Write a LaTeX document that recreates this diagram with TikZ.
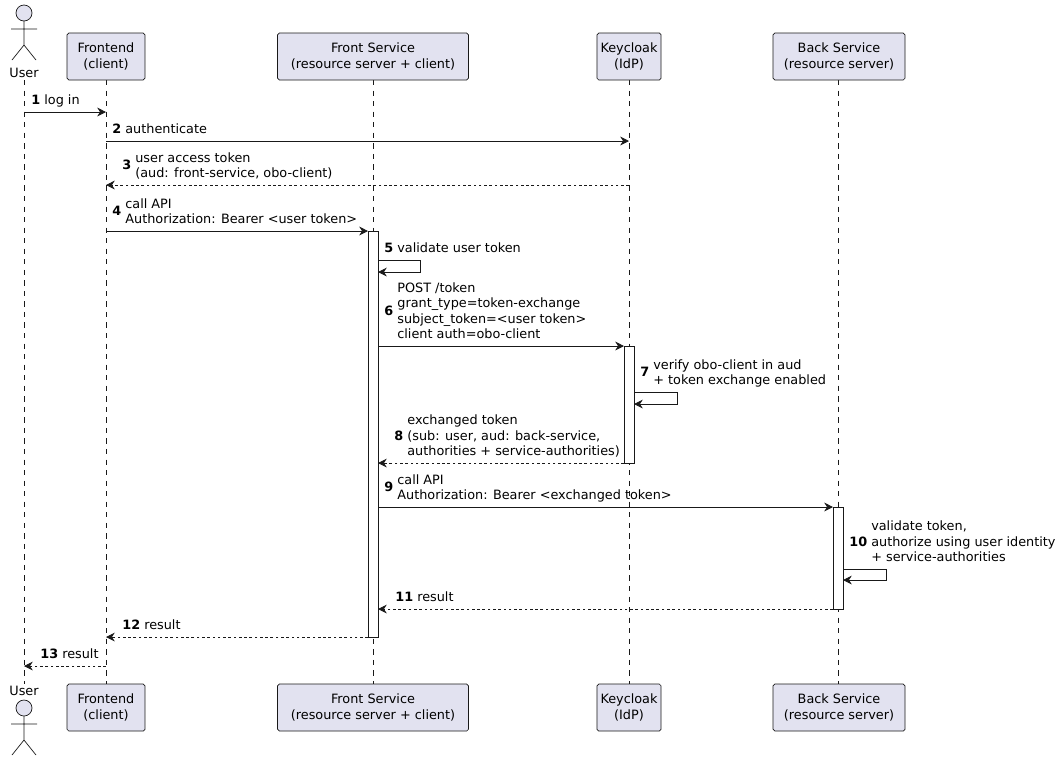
\documentclass[tikz,border=0pt]{standalone}
\usepackage{fontspec}
\setmainfont{DejaVu Sans}
\usetikzlibrary{arrows.meta}

\tikzset{
  part/.style={draw=black!90, fill=partfill, rounded corners=1pt, minimum height=0.94cm, align=center, inner sep=2pt},
  life/.style={draw=black!90, dashed, dash pattern=on 3pt off 3pt, line width=0.3pt},
  actv/.style={draw=black!90, fill=white, line width=0.4pt},
  call/.style={draw=black!90, line width=0.4pt, -{Stealth[length=5pt,width=5pt]}},
  back/.style={call, dash pattern=on 1.5pt off 1.5pt},
  lbl/.style={anchor=south west, inner sep=0pt, align=left},
}
\definecolor{partfill}{HTML}{E2E2F0}
\newcommand{\numtxt}[2]{\textbf{#1}~\begin{tabular}{@{}l@{}}#2\end{tabular}}

\begin{document}
\begin{tikzpicture}[x=0.02cm, y=-0.02cm, font=\fontsize{7.3}{8.6}\selectfont]
\useasboundingbox (0,0) rectangle (1060,765);
% lifelines
\draw[life] (24,80) -- (24,684);
\draw[life] (106,80) -- (106,684);
\draw[life] (373,80) -- (373,684);
\draw[life] (629,80) -- (629,684);
\draw[life] (838,80) -- (838,684);
% participants
\foreach \y/\s in {56.5/t,707.5/b}{
  \node[part, minimum width=1.56cm] (front\s) at (106,\y) {Frontend\\(client)};
  \node[part, minimum width=3.82cm] (fsvc\s) at (373,\y) {Front Service\\(resource server + client)};
  \node[part, minimum width=1.28cm] (kc\s) at (629,\y) {Keycloak\\(IdP)};
  \node[part, minimum width=2.64cm] (bsvc\s) at (839,\y) {Back Service\\(resource server)};
}
% actors
\foreach \h/\t in {13/73,708/691}{
  \draw[black!90, fill=partfill] (24,\h) circle (8);
  \draw[black!90] (24,\h+8) -- (24,\h+32) (11,\h+16) -- (37,\h+16)
    (12,\h+47) -- (24,\h+32) -- (36,\h+47);
  \node at (24,\t) {User};
}
% activations
\draw[actv] (368,231) rectangle (378,637);
\draw[actv] (624,346) rectangle (634,463);
\draw[actv] (833,507) rectangle (843,609);
% messages
\draw[call] (24,112) -- (106,112);
\node[lbl] (m1) at (31,109) {\numtxt{1}{log in}};
\draw[call] (106,141) -- (629,141);
\node[lbl] (m2) at (112,138) {\numtxt{2}{authenticate}};
\draw[back] (629,185) -- (106,185);
\node[lbl] (m3) at (122,182) {\numtxt{3}{user access token\\(aud: front-service, obo-client)}};
\draw[call] (106,231) -- (368,231);
\node[lbl] (m4) at (112,228) {\numtxt{4}{call API\\Authorization: Bearer <user token>}};
\draw[call] (378,260) -- (420,260) -- (420,272) -- (378,272);
\node[lbl] (m5) at (384,257) {\numtxt{5}{validate user token}};
\draw[call] (378,346) -- (624,346);
\node[lbl] (m6) at (384,343) {\numtxt{6}{POST /token\\grant\_type=token-exchange\\subject\_token=<user token>\\client auth=obo-client}};
\draw[call] (634,392) -- (677,392) -- (677,404) -- (634,404);
\node[lbl] (m7) at (640,389) {\numtxt{7}{verify obo-client in aud\\+ token exchange enabled}};
\draw[back] (624,463) -- (378,463);
\node[lbl] (m8) at (394,460) {\numtxt{8}{exchanged token\\(sub: user, aud: back-service,\\authorities + service-authorities)}};
\draw[call] (378,507) -- (833,507);
\node[lbl] (m9) at (384,504) {\numtxt{9}{call API\\Authorization: Bearer <exchanged token>}};
\draw[call] (843,569) -- (886,569) -- (886,580) -- (843,580);
\node[lbl] (m10) at (849,566) {\numtxt{10}{validate token,\\authorize using user identity\\+ service-authorities}};
\draw[back] (833,609) -- (378,609);
\node[lbl] (m11) at (395,606) {\numtxt{11}{result}};
\draw[back] (368,637) -- (106,637);
\node[lbl] (m12) at (122,634) {\numtxt{12}{result}};
\draw[back] (106,666) -- (24,666);
\node[lbl] (m13) at (40,663) {\numtxt{13}{result}};
\end{tikzpicture}
\end{document}
